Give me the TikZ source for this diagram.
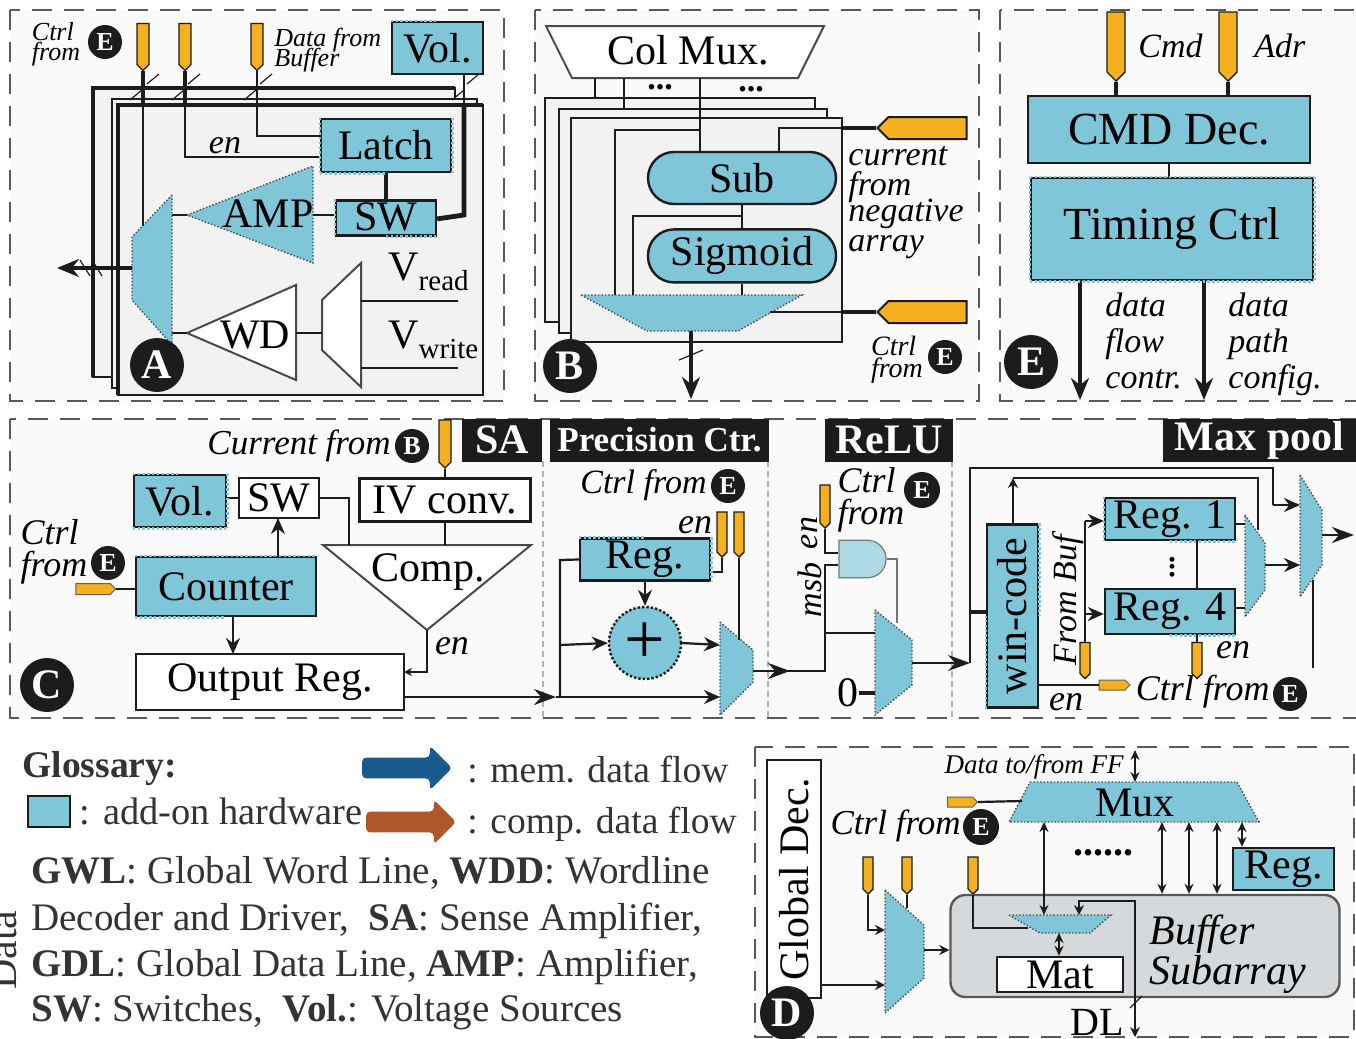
\documentclass[tikz,border=0pt]{standalone}
\usepackage{fontspec}
\setmainfont{Liberation Serif}
\usepackage{xcolor}
\usepackage{tikz}
\usetikzlibrary{positioning}
\usetikzlibrary{arrows.meta}
\usetikzlibrary{shapes.geometric, shapes.symbols, shapes.arrows, shapes.gates.logic.US}

\definecolor{addonc}{HTML}{7FC6D8}
\definecolor{gatec}{HTML}{ADDAE5}
\definecolor{padc}{HTML}{F4B01E}
\definecolor{panelc}{HTML}{FAFAFA}
\definecolor{layerc}{HTML}{F2F2F2}
\definecolor{inkc}{HTML}{1C1C1C}
\definecolor{memc}{HTML}{1B5A8C}
\definecolor{compc}{HTML}{B0562B}
\definecolor{bufc}{HTML}{D6D9DB}
\newcommand{\fs}[1]{\fontsize{#1}{#1}\selectfont}

\tikzset{
	wh/.style 2 args={minimum width=#1*.5pt, minimum height=#2*.5pt},
	panel/.style={draw=black!65, line width=1.1pt, dash pattern=on 10pt off 6pt, fill=panelc},
	layer/.style={draw=inkc, line width=1pt, fill=layerc},
	bus/.style={draw=inkc, line width=2.4pt},
	wire/.style={draw=inkc, line width=1.1pt},
	thickwire/.style={draw=inkc, line width=1.9pt},
	flow/.style={wire, -{Stealth[length=8pt,width=7pt]}},
	flowb/.style={wire, -{Stealth[length=11pt,width=8pt]}},
	bigflow/.style={thickwire, -{Stealth[length=11pt,width=9pt]}},
	both/.style={wire, {Stealth[length=5pt,width=4.5pt]}-{Stealth[length=5pt,width=4.5pt]}},
	tick/.style={draw=inkc, line width=.6pt},
	addon/.style={draw=inkc, line width=1.2pt, fill=addonc, inner sep=0pt, font=\fs{21}},
	plain/.style={draw=inkc, line width=1.2pt, fill=white, inner sep=0pt, font=\fs{21}},
	dotedge/.style={draw=addonc, line width=1.3pt, dash pattern=on 1.2pt off 1.2pt},
	muxa/.style={draw=inkc!80, line width=.7pt, densely dotted, fill=addonc},
	muxw/.style={draw=inkc!80, line width=1pt, fill=white},
	lab/.style={inner sep=0pt, font=\fs{21}},
	it/.style={inner sep=0pt, font=\itshape\fs{17}, align=left},
	tag/.style={fill=inkc, text=white, inner sep=0pt, font=\bfseries\fs{21}, minimum height=21.5pt},
	badge/.style={circle, fill=inkc, text=white, inner sep=0pt, minimum size=27pt, font=\bfseries\fs{21}},
	minibadge/.style={circle, fill=inkc, text=white, inner sep=0pt, minimum size=17pt, font=\bfseries\fs{13}},
	padv/.style={signal, signal to=south, draw=inkc, line width=.7pt, fill=padc, inner sep=0pt},
	padh/.style={signal, signal to=east, draw=inkc!70, line width=.5pt, fill=padc, inner sep=0pt},
	padl/.style={signal, signal to=west, draw=inkc, line width=1pt, fill=padc, inner sep=0pt},
	gloss/.style={anchor=west, inner sep=0pt, text=black!80, font=\fs{19.5}},
	bigarrow/.style={single arrow, rounded corners=2pt, inner sep=0pt, minimum height=45pt, minimum width=22pt, single arrow head extend=6pt},
}

\begin{document}
\begin{tikzpicture}[x=.5pt, y=-.5pt, node distance=7.5pt]
	\useasboundingbox (0,0) rectangle (1356,1039);

	\draw[panel] (10,10) rectangle (504,401);
	\draw[panel] (535,10) rectangle (979,401);
	\draw[panel] (1000,10) rectangle (1362,401);
	\draw[panel] (10,419) rectangle (1362,718);
	\draw[panel] (755,747) rectangle (1354,1037);

	\draw[layer] (93,88) rectangle (455,377);
	\draw[layer] (112,99) rectangle (477,388);
	\draw[layer] (118,105) rectangle (483,395);
	\coordinate (ba1) at (93,377);
	\coordinate (ba2) at (93,88);
	\coordinate (ba3) at (455,88);
	\coordinate (bb1) at (118,395);
	\coordinate (bb2) at (118,105);
	\coordinate (bb3) at (483,105);
	\draw[bus] (ba1) -- (ba2) -- (ba3);
	\draw[bus] (bb1) -- (bb2) -- (bb3);

	\node[padv, wh={12}{41}] (pa1) at (143,44) {};
	\node[padv, wh={12}{41}] (pa2) at (185,44) {};
	\node[padv, wh={12}{41}] (pa3) at (257,44) {};
	\node[addon, wh={91}{52}] (vola) at (437.5,48) {Vol.};
	\node[addon, wh={130}{53}] (latch) at (386,145.5) {\raisebox{-1pt}{Latch}};
	\node[addon, wh={100}{35}, below=13pt of latch] (swa) {\raisebox{1.5pt}{SW}};

	\draw[muxa] (172,195) coordinate (ma1) -- (172,345) coordinate (ma2) -- (132,300) -- (132,237) -- cycle;
	\draw[muxa] (187,215) coordinate (amp1) -- (313,166) -- (313,263) -- cycle;
	\draw[muxw] (187,333) coordinate (wd1) -- (296,285) -- (296,380) -- cycle;
	\draw[muxw] (322,300) -- (361,263) -- (361,387) -- (322,350) -- cycle;
	\node[lab] (amp) at (268,214) {AMP};
	\node[lab] (wd) at (255,335) {WD};
	\coordinate (ja1) at (143,105);
	\coordinate (ja2) at (185,105);
	\coordinate (ma3) at (143,226);
	\coordinate (ma4) at (172,215);
	\coordinate (ma5) at (172,333);
	\coordinate (ma6) at (132,268);
	\coordinate (ampr) at (313,215);
	\coordinate (wdr) at (296,333);
	\coordinate (wm) at (322,333);
	\coordinate (outa) at (57,268);
	\coordinate (vr1) at (361,301);
	\coordinate (vr2) at (458,301);
	\coordinate (vw1) at (361,368);
	\coordinate (vw2) at (458,368);
	\coordinate (jv) at (464,105);
	\coordinate (sa1) at (464,215);

	\draw[thickwire] (pa1.south) -- (ja1);
	\draw[thickwire] (pa2.south) -- (ja2);
	\draw[wire] (ja1) -- (ma3);
	\draw[wire] (ja2) |- ([yshift=-5.75pt]latch.west);
	\draw[wire] (pa3.south) |- ([yshift=4.75pt]latch.west);
	\draw[thickwire] (latch) -- (swa);
	\draw[bus] ([yshift=-.5pt]swa.east) -- (sa1) -- (jv);
	\draw[wire] (jv) -- (jv |- vola.south);
	\draw[wire] (amp1) -- (ma4);
	\draw[wire] (ampr) -- (ampr -| swa.west);
	\draw[wire] (wd1) -- (ma5);
	\draw[wire] (wdr) -- (wm);
	\draw[wire] (vr1) -- (vr2);
	\draw[wire] (vw1) -- (vw2);
	\draw[bigflow] (ma6) -- (outa);
	\foreach \x/\y in {153/79, 194/79, 266/79, 473/79, 136/95, 178/95, 250/95, 458/95} {
		\draw[tick] (\x-6,\y+5) -- (\x+6,\y-5);
	}
	\foreach \x in {85, 97} {
		\draw[tick] (\x-5,260) -- (\x+5,276);
	}

	\node[it, font=\itshape\fs{13}] (ctrla) at (56,44) {Ctrl\\[-3pt]from};
	\node[minibadge] (ea) at (105,42) {E};
	\node[it, font=\itshape\fs{13}, anchor=west] (dataa) at (274,40) {Data from};
	\node[it, font=\itshape\fs{13}, anchor=west] (bufa) at (274,60) {Buffer};
	\node[it] (ena) at (225,146) {en};
	\node[lab, anchor=west] (vread) at (388,272) {V\raisebox{-5pt}{\fs{14.5}read}};
	\node[lab, anchor=west] (vwrite) at (388,340) {V\raisebox{-5pt}{\fs{14.5}write}};
	\node[badge] (bada) at (157,365) {A};

	\draw[layer] (545,98) rectangle (815,322);
	\draw[layer] (559,109) rectangle (827,333);
	\draw[layer] (571,118) rectangle (842,342);
	\draw[muxw] (546,26) -- (824,26) -- (798,78) -- (572,78) -- cycle;
	\draw[muxa] (581,295) -- (802,295) -- (738,331) -- (647,331) -- cycle;
	\node[lab] (colmux) at (688,50) {Col Mux.};
	\node[addon, wh={188}{52}, rounded corners=13pt] (sub) at (742,178) {Sub};
	\node[addon, wh={188}{53}, rounded corners=13pt, below=11.5pt of sub] (sigm) {Sigmoid};
	\node[padl, wh={89}{22}] (pb1) at (927.5,128) {};
	\node[padl, wh={89}{22}] (pb2) at (927.5,312) {};
	\coordinate (cm1) at (595,78);
	\coordinate (cm2) at (624,78);
	\coordinate (cm3) at (700,78);
	\coordinate (l1) at (595,98);
	\coordinate (l2) at (624,109);
	\coordinate (jb1) at (700,130);
	\coordinate (jb2) at (615,130);
	\coordinate (ms1) at (615,295);
	\coordinate (jb3) at (779,128);
	\coordinate (jb4) at (742,216);
	\coordinate (jb5) at (633,216);
	\coordinate (ms2) at (633,295);
	\coordinate (ms3) at (742,295);
	\coordinate (ms4) at (770,312);
	\coordinate (ms5) at (691,331);
	\coordinate (outb) at (691,399);
	\coordinate (eb1) at (842,128);
	\coordinate (eb2) at (842,312);
	\draw[wire] (cm1) -- (l1);
	\draw[wire] (cm2) -- (l2);
	\draw[wire] (cm3) -- (sub.north -| cm3);
	\draw[wire] (ms1) -- (jb2) -- (jb1);
	\draw[wire] (sub.north -| jb3) -- (jb3) -- (eb1);
	\draw[thickwire] (eb1) -- (pb1.west);
	\draw[wire] (sub) -- (sigm);
	\draw[wire] (sigm) -- (ms3);
	\draw[wire] (jb4) -- (jb5) -- (ms2);
	\draw[wire] (ms4) -- (eb2);
	\draw[thickwire] (eb2) -- (pb2.west);
	\draw[bigflow] (ms5) -- (outb);
	\draw[tick] (679,360) -- (703,350);
	\node[lab, font=\bfseries\fs{17}] (dotb1) at (660,87) {...};
	\node[lab, font=\bfseries\fs{17}] (dotb2) at (751,89) {...};
	\node[it, anchor=north west] (curb) at (848,146) {current\\[-2pt]from\\[-4pt]negative\\[-2pt]array};
	\node[it, font=\itshape\fs{14}, anchor=center] (ctrlb) at (897,360) {Ctrl\\[-3pt]from};
	\node[minibadge] (eb) at (945,357) {E};
	\node[badge] (badb) at (570,366) {B};

	\node[padv, wh={18}{60}] (pe1) at (1116,42) {};
	\node[padv, wh={18}{60}] (pe2) at (1228,42) {};
	\node[addon, wh={282}{67}, font=\fs{23}] (cmd) at (1169,129.5) {CMD Dec.};
	\node[addon, wh={282}{102}, font=\fs{23}] (timing) at (1172,229) {\raisebox{-2pt}{Timing Ctrl}};
	\coordinate (oe1) at (1080,400);
	\coordinate (oe2) at (1204,400);
	\draw[thickwire] (pe1.south) -- (pe1.south |- cmd.north);
	\draw[thickwire] (pe2.south) -- (pe2.south |- cmd.north);
	\draw[wire] (cmd) -- (cmd |- timing.north);
	\draw[bigflow] (timing.south -| oe1) -- (oe1);
	\draw[bigflow] (timing.south -| oe2) -- (oe2);
	\node[it, anchor=west] (cmdt) at (1138,46) {Cmd};
	\node[it, anchor=west] (adrt) at (1254,46) {Adr};
	\node[it, anchor=north west] (flowt) at (1105,293) {data\\[1pt]flow\\[1pt]contr.};
	\node[it, anchor=north west] (patht) at (1228,293) {data\\[1pt]path\\[1pt]config.};
	\node[badge] (bade) at (1031,362) {E};

	\draw[draw=black!30, line width=1pt, densely dashed] (543,461) -- (543,718);
	\draw[draw=black!30, line width=1pt, densely dashed] (768,461) -- (768,718);
	\draw[draw=black!30, line width=1pt, densely dashed] (952,461) -- (952,718);
	\node[tag, minimum width=40pt] (tsa) at (502,440) {SA};
	\node[tag, minimum width=109.5pt, font=\bfseries\fs{17.5}] (tpc) at (659.5,440) {Precision Ctr.};
	\node[tag, minimum width=64pt] (trelu) at (889,440) {ReLU};
	\node[tag, minimum width=96.5pt] (tmax) at (1259.5,440) {\raisebox{-1.5pt}{Max pool}};

	\node[padv, wh={12}{42}] (pc1) at (445,441) {};
	\node[plain, wh={171}{43}] (iv) at (445,500) {IV conv.};
	\node[plain, wh={80}{40}] (swc) at (279,498) {SW};
	\node[addon, wh={92}{52}] (volc) at (180,501) {Vol.};
	\node[addon, wh={180}{59}] (counter) at (226,586.5) {Counter};
	\node[plain, wh={268}{56}] (outreg) at (270,682) {\raisebox{-1pt}{Output Reg.}};
	\node[padh, wh={40}{11}] (pc2) at (93,589) {};
	\draw[muxw] (323,545) -- (531,545) -- (427,630) coordinate (compb) -- cycle;
	\node[lab] (comp) at (428,572) {Comp.};
	\coordinate (jc1) at (349,498);
	\coordinate (jc2) at (349,545);
	\coordinate (jc3) at (445,545);
	\coordinate (jc4) at (427,672);
	\coordinate (jc5) at (404,672);
	\coordinate (jc6) at (404,697);
	\coordinate (rail) at (556,697);
	\coordinate (c1) at (278,557);
	\coordinate (c2) at (278,518);
	\coordinate (c3) at (233,616);
	\coordinate (c4) at (233,654);
	\draw[wire] (pc1.south) -- (iv.north);
	\draw[wire] (iv.south -| jc3) -- (jc3);
	\draw[wire] (volc.east |- swc) -- (swc.west);
	\draw[wire] (swc.east) -- (jc1) -- (jc2);
	\draw[flow] (c1) -- (c2);
	\draw[flow] (c3) -- (c4);
	\draw[wire] (pc2.east) -- (pc2.east -| counter.west);
	\draw[wire, -{Stealth[length=4pt,width=4pt]}] (compb) -- (jc4) -- (jc5);
	\draw[flowb] (jc6) -- (rail);
	\node[it, anchor=east, font=\itshape\fs{17.5}] (curc) at (391,446) {Current from};
	\node[minibadge] (ecb) at (412,446) {B};
	\node[it, font=\itshape\fs{18}] (ctrlc) at (54,552) {Ctrl\\[-2pt]from};
	\node[minibadge] (ec) at (108,563) {E};
	\node[it, font=\itshape\fs{18}] (enc) at (452,646) {en};
	\node[badge] (badc) at (47,685) {C};

	\node[addon, wh={130}{42}] (regp) at (645,559.5) {Reg.};
	\node[padv, wh={10}{40}] (pp1) at (722,532) {};
	\node[padv, wh={10}{40}] (pp2) at (739,532) {};
	\node[addon, circle, wh={72}{72}, densely dotted, font=\fs{36}] (adder) at (645,643) {+};
	\draw[muxa] (720,622) -- (753,650) -- (753,682) -- (720,715) -- cycle;
	\coordinate (mp1) at (720,645);
	\coordinate (mp2) at (720,697);
	\coordinate (mp3) at (739,640);
	\coordinate (mp4) at (753,671);
	\coordinate (jr1) at (560,560);
	\coordinate (jr2) at (560,697);
	\coordinate (jr3) at (560,645);
	\coordinate (jp1) at (722,572);
	\coordinate (jp2) at (825,671);
	\coordinate (jp3) at (825,633);
	\draw[wire] (regp.west) -- (jr1) -- (jr2);
	\draw[flow] (jr3) -- (adder.west);
	\draw[flow] (rail) -- (mp2);
	\draw[flow] (adder.east) -- (mp1);
	\draw[flow] (regp.south) -- (adder.north);
	\draw[wire] (pp1.south) -- (jp1) -- (jp1 -| regp.east);
	\draw[wire] (pp2.south) -- (mp3);
	\node[it, anchor=east] (ctrlp) at (707,485) {Ctrl from};
	\node[minibadge] (ep) at (728,486) {E};
	\node[it, font=\itshape\fs{18}] (enp) at (695,525) {en};

	\draw[muxa] (875,610) -- (912,640) -- (912,685) -- (875,715) -- cycle;
	\node[padv, wh={10}{38}] (pr1) at (825,504) {};
	\node[and gate US, draw=inkc!60, line width=.6pt, fill=gatec, inner sep=0pt, wh={47}{36}] (andg) at (861,559) {};
	\coordinate (mr1) at (875,633);
	\coordinate (mr2) at (875,687);
	\coordinate (mr3) at (897,623);
	\coordinate (mr4) at (912,663);
	\coordinate (jw) at (970,663);
	\coordinate (jp4) at (790,671);
	\draw[wire] (mp4) -- (jp2) -- (jp3) -- (mr1);
	\draw[flowb] (mp4) -- (jp4);
	\draw[wire] (jp3) |- (andg.input 2);
	\draw[wire] (pr1.south) |- (andg.input 1);
	\draw[draw=black!55, line width=.8pt] (andg.output) -| (mr3);
	\node[lab] (zero) at (848,693) {0};
	\draw[thickwire] (zero.east) -- (zero.east -| mr2);
	\draw[flowb] (mr4) -- (jw);
	\node[it, rotate=90] (enr) at (810,533) {en};
	\node[it, rotate=90] (msb) at (810,590) {msb};
	\node[it, font=\itshape\fs{18}] (ctrlr) at (871,500) {Ctrl\\[-2pt]from};
	\node[minibadge, minimum size=18pt] (er) at (922,490) {E};

	\node[addon, wh={51}{183}] (wincode) at (1012.5,616) {\rotatebox{90}{win-code}};
	\node[addon, wh={130}{42}] (reg1) at (1170,519) {Reg. 1};
	\node[addon, wh={130}{45}] (reg4) at (1170,611.5) {Reg. 4};
	\node[padv, wh={10}{31}] (pm1) at (1085,658) {};
	\node[padv, wh={10}{31}] (pm2) at (1197,658) {};
	\node[padh, wh={31}{10}] (pm3) at (1112,685) {};
	\draw[muxa] (1245,515) -- (1265,543) -- (1265,590) -- (1245,617) -- cycle;
	\draw[muxa] (1300,475) -- (1322,510) -- (1322,565) -- (1300,597) -- cycle;
	\coordinate (jw1) at (970,468);
	\coordinate (jw2) at (1273,468);
	\coordinate (jw3) at (1273,505);
	\coordinate (mm1) at (1300,505);
	\coordinate (mm2) at (1300,565);
	\coordinate (sm1) at (1265,565);
	\coordinate (sm2) at (1245,524);
	\coordinate (sm3) at (1245,608);
	\coordinate (sm4) at (1258,530);
	\coordinate (jt1) at (1013,478);
	\coordinate (jt2) at (1258,478);
	\coordinate (jw4) at (970,612);
	\coordinate (jf1) at (1085,521);
	\coordinate (jf2) at (1085,614);
	\coordinate (mm3) at (1322,535);
	\coordinate (outm) at (1354,535);
	\coordinate (mm4) at (1313,580);
	\coordinate (mm5) at (1313,668);
	\draw[wire] (jw) -- (jw1) -- (jw2) -- (jw3);
	\draw[flow] (jw3) -- (mm1);
	\draw[thickwire] (jw4) -- (jw4 -| wincode.west);
	\draw[flow, -{Stealth[length=5pt,width=5pt]}] (wincode.north -| jt1) -- (jt1);
	\draw[wire] (jt1) -- (jt2) -- (sm4);
	\draw[wire] (pm1.north) -- (jf1);
	\draw[flow] (jf1) -- (jf1 -| reg1.west);
	\draw[flow] (jf2) -- (jf2 -| reg4.west);
	\draw[wire] (reg1.south -| pm2) -- (reg4.north -| pm2);
	\draw[wire] (reg4.south -| pm2) -- (pm2.north);
	\draw[wire] (sm2 -| reg1.east) -- (sm2);
	\draw[wire] (sm3 -| reg4.east) -- (sm3);
	\draw[flow] (sm1) -- (mm2);
	\draw[flowb] (mm3) -- (outm);
	\draw[wire] (mm4) -- (mm5);
	\draw[wire] (wincode.east |- pm3) -- (pm3.west);
	\node[lab, font=\bfseries\fs{15}] (dotm) at (1172,567) {\rotatebox{90}{...}};
	\node[it, rotate=90] (frombuf) at (1068,600) {From Buf};
	\node[it, font=\itshape\fs{18}] (enm1) at (1233,650) {en};
	\node[it, font=\itshape\fs{18}] (enm2) at (1066,702) {en};
	\node[it, anchor=east, font=\itshape\fs{18}] (ctrlm) at (1270,692) {Ctrl from};
	\node[minibadge] (em) at (1290,694) {E};

	\foreach \a/\b in {vola.north west/vola.north, latch.north west/latch.south west, latch.south west/latch.south, latch.north east/latch.south east, swa.north west/swa.south west, swa.south/swa.south east, volc.north west/volc.north, volc.north east/volc.south east, volc.south west/volc.south east, counter.north west/counter.north east, counter.south west/counter.south, regp.north west/regp.north, regp.north east/regp.south east, wincode.north east/wincode.east, wincode.south west/wincode.west, reg1.north west/reg1.south west, reg1.south/reg1.south east, reg4.south/reg4.south east, timing.north west/timing.north east, timing.north east/timing.south east, timing.north west/timing.south west, timing.south west/timing.south east} {
		\draw[dotedge] (\a) -- (\b);
	}

	\node[gloss, font=\bfseries\fs{18.8}] (glos) at (22,769) {Glossary:};
	\node[addon, wh={42}{31}, font=\fs{1}] (swatch) at (49,811.5) {};
	\node[gloss, right=4pt of swatch, font=\fs{19.2}] (addt) {: add-on hardware};
	\node[bigarrow, fill=memc] (memarrow) at (402,768) {\rule{0pt}{10pt}};
	\node[bigarrow, fill=compc] (comparrow) at (406,822) {\rule{0pt}{10pt}};
	\node[gloss, font=\fs{18.8}] (memt) at (467,770) {: mem. data flow};
	\node[gloss, font=\fs{18.8}] (compt) at (467,824) {: comp. data flow};
	\node[gloss] (g1) at (31,873) {\textbf{GWL}: Global Word Line, \textbf{WDD}: Wordline};
	\node[gloss] (g2) at (31,921) {Decoder and Driver,\ \ \textbf{SA}: Sense Amplifier,};
	\node[gloss] (g3) at (31,967) {\textbf{GDL}: Global Data Line, \textbf{AMP}: Amplifier,};
	\node[gloss] (g4) at (31,1012) {\textbf{SW}: Switches,\ \ \textbf{Vol.}: Voltage Sources};
	\node[gloss, rotate=90, anchor=center, font=\fs{21}] (gdata) at (3,950) {Data};

	\node[plain, wh={54}{238}] (gdec) at (794,879) {\rotatebox{90}{Global Dec.}};
	\draw[muxa] (1030,782) -- (1237,782) -- (1259,822) -- (1009,822) -- cycle;
	\node[lab] (muxd) at (1135,803) {Mux};
	\node[padh, wh={30}{10}] (pd0) at (960,802) {};
	\node[padv, wh={10}{32}] (pd1) at (868,873) {};
	\node[padv, wh={10}{32}] (pd2) at (907,873) {};
	\node[padv, wh={10}{32}] (pd3) at (973,873) {};
	\draw[muxa] (885,890) -- (924,925) -- (924,978) -- (885,1013) -- cycle;
	\node[draw=black!65, line width=1.2pt, fill=bufc, rounded corners=7.5pt, inner sep=0pt, wh={389}{102}] (buffer) at (1145,946) {};
	\node[plain, wh={126}{35}] (mat) at (1060,974.5) {Mat};
	\node[addon, wh={101}{42}] (regd) at (1283.5,869) {Reg.};
	\draw[muxa] (1009,915) -- (1111,915) -- (1090,933) -- (1040,933) -- cycle;
	\coordinate (dm1) at (1022,801);
	\coordinate (dm2) at (1135,750);
	\coordinate (dm3) at (1135,782);
	\coordinate (dm4) at (885,930);
	\coordinate (dm5) at (907,908);
	\coordinate (dm6) at (924,950);
	\coordinate (dm7) at (885,985);
	\coordinate (dm9) at (1028,928);
	\coordinate (ms6) at (1044,822);
	\coordinate (ms7) at (1044,915);
	\coordinate (ms8) at (1059,933);
	\coordinate (ms9) at (1079,915);
	\coordinate (dl1) at (1079,901);
	\coordinate (dl2) at (1135,901);
	\coordinate (dl3) at (1135,1037);
	\coordinate (rm) at (1242,822);
	\draw[both] (dm2) -- (dm3);
	\draw[wire] (pd0.east) -- (dm1);
	\draw[flow, -{Stealth[length=5pt,width=5pt]}] (pd1.south) |- (dm4);
	\draw[wire] (pd2.south) -- (dm5);
	\draw[wire] (pd3.south) |- (dm9);
	\draw[flow, -{Stealth[length=5pt,width=5pt]}] (dm6) -- (dm6 -| buffer.west);
	\draw[flow, -{Stealth[length=5pt,width=5pt]}] (dm7 -| gdec.east) -- (dm7);
	\draw[both] (ms6) -- (ms7);
	\foreach \x in {1162, 1189, 1217} {
		\coordinate (tx) at (\x,822);
		\draw[both] (tx) -- (tx |- buffer.north);
	}
	\draw[both] (rm) -- (rm |- regd.north);
	\draw[both] (ms8) -- (ms8 |- mat.north);
	\draw[{Stealth[length=5pt,width=5pt]}-{Stealth[length=5pt,width=5pt]}, wire] (ms9) -- (dl1) -- (dl2) -- (dl3);
	\draw[tick] (1130,1008) -- (1142,996);
	\node[it, anchor=east, font=\itshape\fs{13.5}] (datad) at (1124,767) {Data to/from FF};
	\node[it, anchor=east, font=\itshape\fs{17.5}] (ctrld) at (961,826) {Ctrl from};
	\node[minibadge, minimum size=18pt] (ed) at (981,827) {E};
	\node[lab, font=\bfseries\fs{20}] (dotd) at (1103,853) {......};
	\node[it, anchor=west, font=\itshape\fs{21}] (buft) at (1149,934) {Buffer};
	\node[it, anchor=west, font=\itshape\fs{21}] (subt) at (1149,974) {Subarray};
	\node[lab, font=\fs{20}] (dl) at (1097,1022) {DL};
	\node[badge] (badd) at (787,1013) {D};
\end{tikzpicture}
\end{document}
